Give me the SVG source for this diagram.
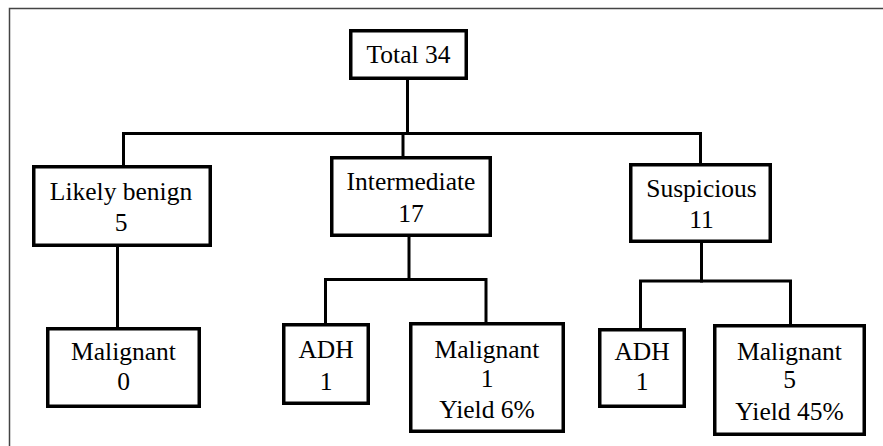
<svg xmlns="http://www.w3.org/2000/svg" width="883" height="446" viewBox="0 0 883 446">
<style>
.box{fill:#fff;stroke:#000;stroke-width:3.5}
.ln{fill:none;stroke:#000;stroke-width:3;stroke-linecap:square}
.frame{fill:none;stroke:#444;stroke-width:1.5}
text{font-size:25.5px;fill:#000;text-anchor:middle}
</style>
<rect width="883" height="446" fill="#fff"/>
<path class="frame" d="M9.5,446 V8.5 H883"/>
<g id="connectors">
<path class="ln" d="M407.5,80 V133.5"/>
<path class="ln" d="M123.5,165 V133.5 H700.5 V163"/>
<path class="ln" d="M403,133.5 V156"/>
<path class="ln" d="M117.5,247 V327"/>
<path class="ln" d="M409,237 V279.5"/>
<path class="ln" d="M325.5,323 V279.5 H486 V322"/>
<path class="ln" d="M701.5,243 V281"/>
<path class="ln" d="M640.5,328 V281 H790.5 V324"/>
</g>
<g font-family="Liberation Serif, DejaVu Serif, Times New Roman, serif">
<g id="total">
<rect class="box" x="350.75" y="30.75" width="115.5" height="47.5"/>
<text x="408.5" y="63">Total 34</text>
</g>
<g id="likely-benign">
<rect class="box" x="33.75" y="166.75" width="176.5" height="78.5"/>
<text x="121" y="200">Likely benign</text>
<text x="121" y="231">5</text>
</g>
<g id="intermediate">
<rect class="box" x="331.75" y="157.75" width="158.5" height="77.5"/>
<text x="411" y="190">Intermediate</text>
<text x="411" y="222">17</text>
</g>
<g id="suspicious">
<rect class="box" x="630.75" y="164.75" width="139.5" height="76.5"/>
<text x="701.5" y="197">Suspicious</text>
<text x="701.5" y="228">11</text>
</g>
<g id="malignant-0">
<rect class="box" x="47.75" y="328.75" width="151.5" height="77.5"/>
<text x="123.5" y="360">Malignant</text>
<text x="123.5" y="390">0</text>
</g>
<g id="adh-intermediate">
<rect class="box" x="283.75" y="324.75" width="84.5" height="78.5"/>
<text x="326" y="358">ADH</text>
<text x="326" y="390">1</text>
</g>
<g id="malignant-intermediate">
<rect class="box" x="410.75" y="323.75" width="152.5" height="107.5"/>
<text x="487" y="358">Malignant</text>
<text x="487" y="387">1</text>
<text x="487" y="418">Yield 6%</text>
</g>
<g id="adh-suspicious">
<rect class="box" x="599.75" y="329.75" width="84.5" height="76.5"/>
<text x="642" y="360">ADH</text>
<text x="642" y="390">1</text>
</g>
<g id="malignant-suspicious">
<rect class="box" x="714.75" y="325.75" width="149.5" height="108.5"/>
<text x="789.5" y="360">Malignant</text>
<text x="789.5" y="388">5</text>
<text x="789.5" y="420">Yield 45%</text>
</g>
</g>
</svg>
